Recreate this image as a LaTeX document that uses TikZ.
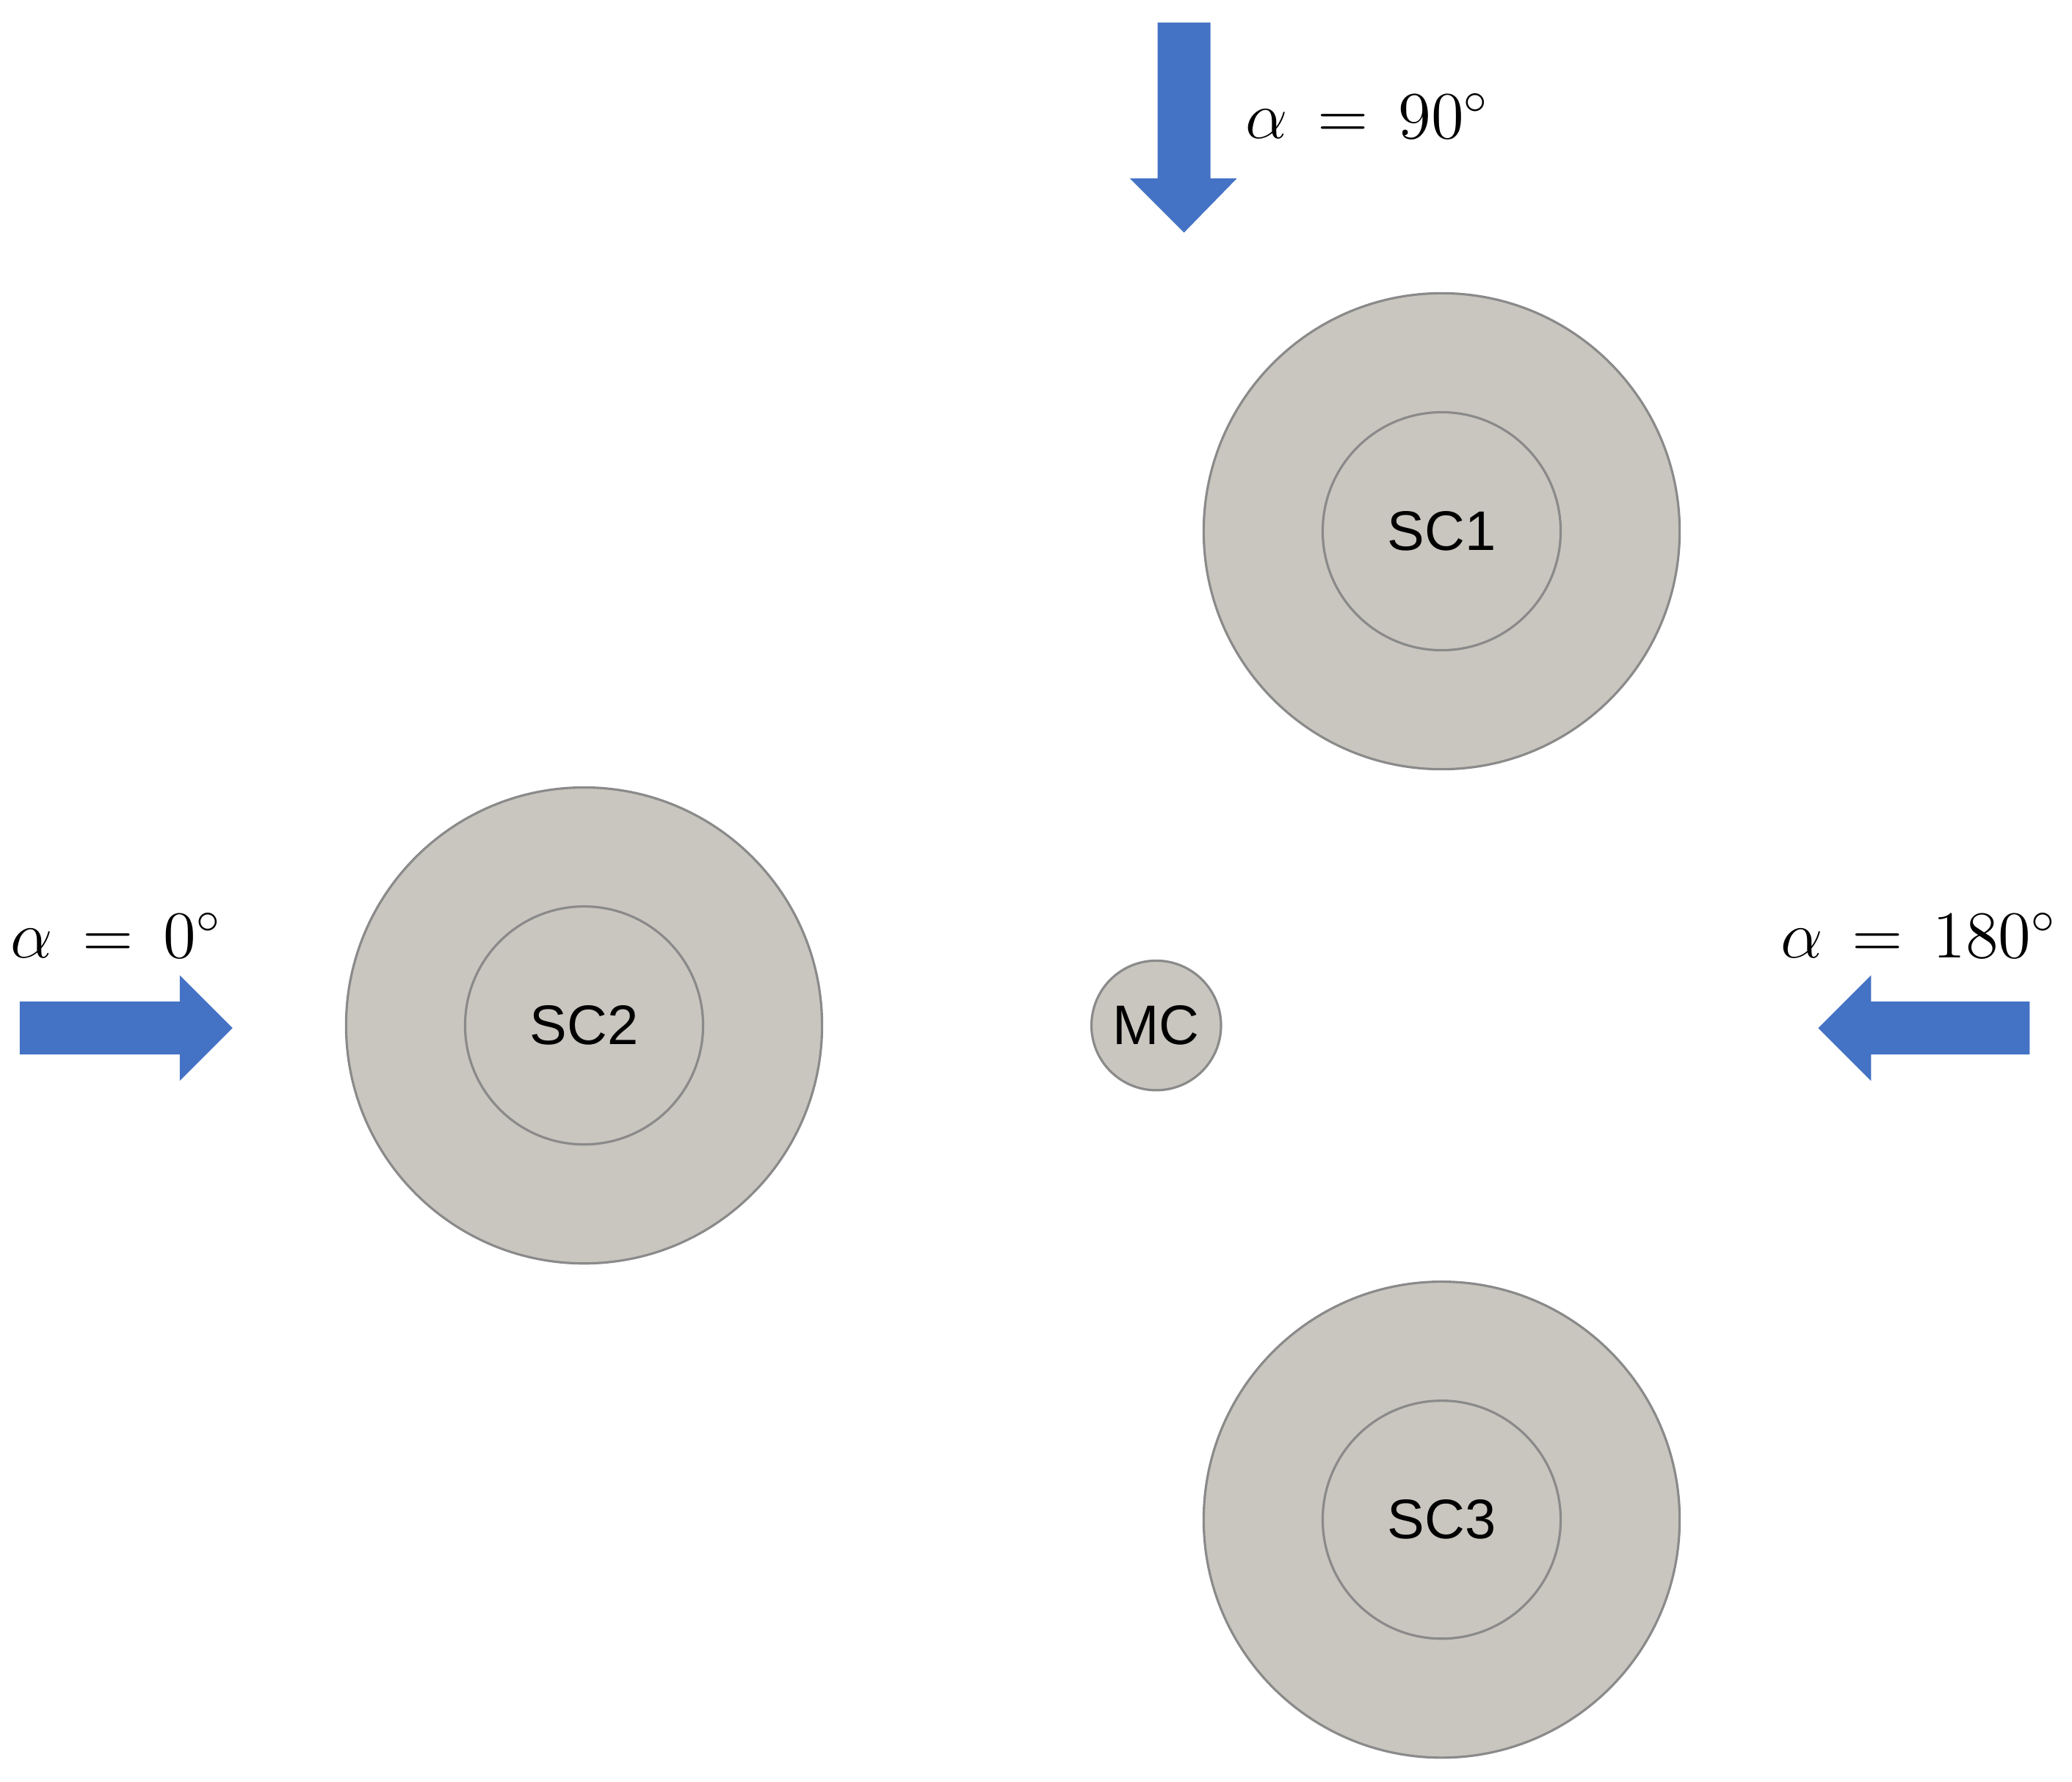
\documentclass[tikz,border=0pt]{standalone}
\usepackage{fontspec}
\setsansfont{Liberation Sans}
\definecolor{disk}{HTML}{C9C6BF}
\definecolor{edge}{HTML}{8A8A8A}
\definecolor{arr}{HTML}{4472C4}
\begin{document}
\begin{tikzpicture}[x=0.01cm,y=-0.01cm,
  outer/.style={circle,draw=edge,fill=disk,line width=0.5pt,minimum size=3.6cm,inner sep=0pt},
  inner/.style={circle,draw=edge,fill=disk,line width=0.5pt,minimum size=1.8cm,inner sep=0pt,font=\sffamily\fontsize{12}{14}\selectfont},
  lab/.style={font=\fontsize{14}{16}\selectfont},
  bluearrow/.style={fill=arr,draw=none}]
\useasboundingbox (0,0) rectangle (1568,1348);
\foreach \n/\x/\y in {1/1091/402,2/442/776,3/1091/1150}{
  \node[outer] (o\n) at (\x,\y) {};
  \node[inner] (sc\n) at (\x,\y) {SC\n};
}
\node[circle,draw=edge,fill=disk,line width=0.5pt,minimum size=0.98cm,inner sep=0pt,font=\sffamily\fontsize{12}{14}\selectfont] (mc) at (875,776) {MC};
% down arrow
\fill[bluearrow] (876,17) -- (916,17) -- (916,135) -- (936,135) -- (896,176) -- (855,135) -- (876,135) -- cycle;
\node[lab] (l90) at (1035,88) {$\alpha\,=\,90^\circ$};
% right arrow
\fill[bluearrow] (15,758) -- (136,758) -- (136,738) -- (176,778) -- (136,818) -- (136,798) -- (15,798) -- cycle;
\node[lab] (l0) at (88,708) {$\alpha\,=\,0^\circ$};
% left arrow
\fill[bluearrow] (1536,758) -- (1416,758) -- (1416,738) -- (1376,778) -- (1416,818) -- (1416,798) -- (1536,798) -- cycle;
\node[lab] (l180) at (1452,708) {$\alpha\,=\,180^\circ$};
\end{tikzpicture}
\end{document}
